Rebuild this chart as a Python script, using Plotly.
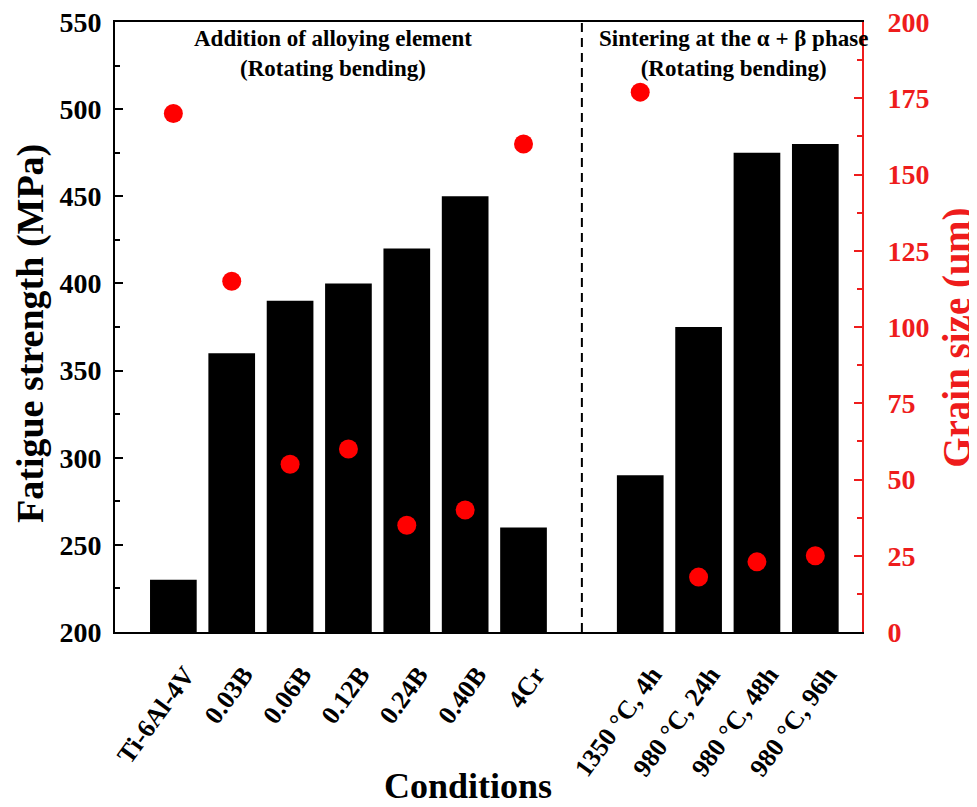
import plotly.graph_objects as go

categories = ["Ti-6Al-4V", "0.03B", "0.06B", "0.12B", "0.24B", "0.40B", "4Cr",
              "1350 \u00b0C, 4h", "980 \u00b0C, 24h", "980 \u00b0C, 48h", "980 \u00b0C, 96h"]
positions = [1, 2, 3, 4, 5, 6, 7, 9, 10, 11, 12]
fatigue_strength = [230, 360, 390, 400, 420, 450, 260, 290, 375, 475, 480]
grain_size = [170, 115, 55, 60, 35, 40, 160, 177, 18, 23, 25]
divider_position = 8

FONT = "Liberation Serif"
RED = "#ee1c1c"

fig = go.Figure()
fig.add_trace(go.Bar(
    x=positions, y=[v - 200 for v in fatigue_strength], base=200,
    width=0.8, marker=dict(color="black", line=dict(width=0)),
    yaxis="y", showlegend=False, hoverinfo="skip"))
fig.add_trace(go.Scatter(
    x=positions, y=grain_size, mode="markers",
    marker=dict(color="#ff0000", size=19, line=dict(width=0)),
    yaxis="y2", showlegend=False))

fig.add_shape(type="line", xref="x", yref="paper", x0=divider_position, x1=divider_position,
              y0=0, y1=1, line=dict(color="black", width=2, dash="9px,6px"))

fig.add_annotation(x=3.73, y=549, xref="x", yref="y", yanchor="top",
                   text="<b>Addition of alloying element<br>(Rotating bending)</b>",
                   showarrow=False, font=dict(family=FONT, size=23, color="black"))
fig.add_annotation(x=10.6, y=549, xref="x", yref="y", yanchor="top",
                   text="<b>Sintering at the \u03b1 + \u03b2 phase<br>(Rotating bending)</b>",
                   showarrow=False, font=dict(family=FONT, size=23, color="black"))

# axis titles placed explicitly
fig.add_annotation(x=-0.114, y=0.49, xref="paper", yref="paper", textangle=-90,
                   xanchor="center", yanchor="middle",
                   text="<b>Fatigue strength (MPa)</b>", showarrow=False,
                   font=dict(family=FONT, size=38, color="black"))
fig.add_annotation(x=1.127, y=0.482, xref="paper", yref="paper", textangle=-90,
                   xanchor="center", yanchor="middle",
                   text="<b>Grain size (\u03bcm)</b>", showarrow=False,
                   font=dict(family=FONT, size=39, color=RED))
fig.add_annotation(x=0.4726, y=-0.252, xref="paper", yref="paper",
                   xanchor="center", yanchor="middle",
                   text="<b>Conditions</b>", showarrow=False,
                   font=dict(family=FONT, size=36, color="black"))

# page body has an 8px margin: shift the figure so the plot area lands where the reference has it
fig.update_layout(
    width=969, height=799,
    margin=dict(l=107, r=115, t=14, b=175, autoexpand=False),
    plot_bgcolor="white", paper_bgcolor="white",
    font=dict(family=FONT, color="black"),
    xaxis=dict(
        range=[0, 12.8], tickmode="array", tickvals=positions, ticktext=categories,
        tickangle=-54, ticks="", showline=True, linecolor="black", linewidth=2,
        mirror=True, showgrid=False, zeroline=False, automargin=False,
        ticklabelshift=12, ticklabelstandoff=15, ticklabeloverflow="allow",
        tickfont=dict(family=FONT, size=26, color="black", weight="bold"),
    ),
    yaxis=dict(
        range=[200, 550], dtick=50, ticks="inside", ticklen=8, tickwidth=2,
        tickcolor="black", showline=True, linecolor="black", linewidth=2,
        showgrid=False, zeroline=False, automargin=False, ticklabeloverflow="allow",
        minor=dict(ticks="inside", ticklen=5, tickwidth=2, tickcolor="black", dtick=25),
        tickfont=dict(family=FONT, size=28, color="black", weight="bold"),
        ticklabelstandoff=6,
    ),
    yaxis2=dict(
        overlaying="y", side="right", range=[0, 200], dtick=25,
        ticks="inside", ticklen=8, tickwidth=2, tickcolor=RED,
        showline=True, linecolor=RED, linewidth=2, showgrid=False, zeroline=False,
        automargin=False, ticklabeloverflow="allow",
        minor=dict(ticks="inside", ticklen=5, tickwidth=2, tickcolor=RED, dtick=12.5),
        tickfont=dict(family=FONT, size=28, color=RED, weight="bold"),
        ticklabelstandoff=18,
    ),
)

fig.write_html("out.html")
